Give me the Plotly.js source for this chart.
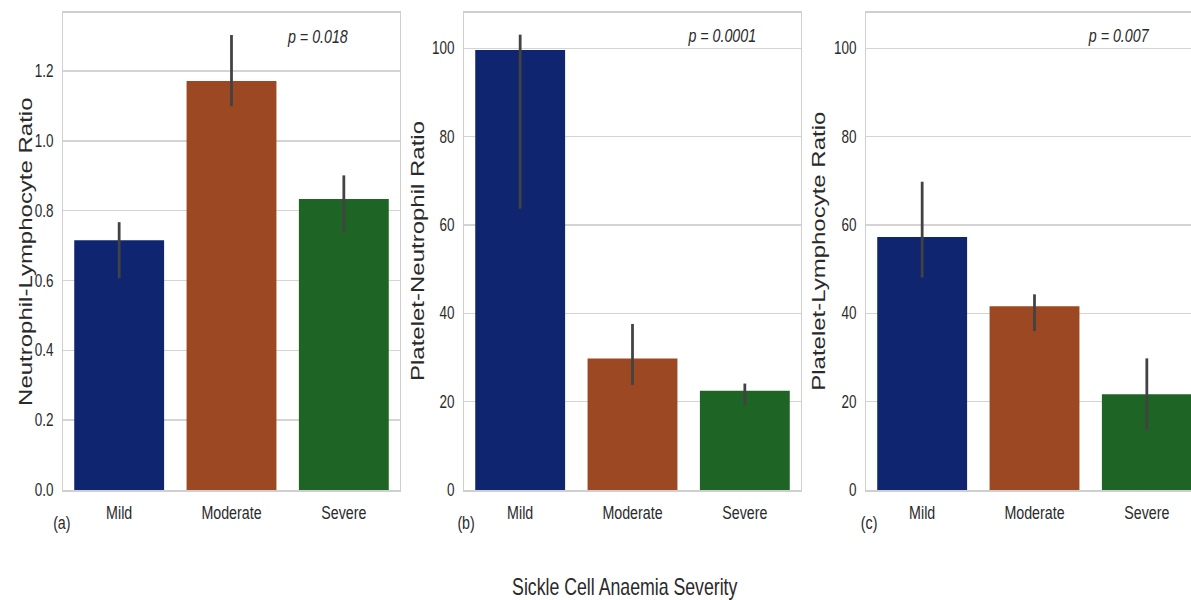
<!DOCTYPE html>
<html>
<head>
<meta charset="utf-8">
<script src="https://cdn.plot.ly/plotly-3.0.1.min.js"></script>
<style>
  html, body { margin: 0; padding: 0; overflow: hidden; background: #ffffff; width: 1191px; height: 600px; }
  #wrap { width: 1191px; height: 600px; overflow: hidden; position: relative; }
  #chart { position: absolute; left: 0; top: 0; transform-origin: 0 0; }
</style>
</head>
<body>
<div id="wrap"><div id="chart"></div></div>
<script>
// ---------------- data ----------------
const categories = ['Mild', 'Moderate', 'Severe'];

const nlrMean = [0.715, 1.171, 0.833];
const nlrLow  = [0.606, 1.099, 0.736];
const nlrHigh = [0.767, 1.303, 0.901];

const pnrMean = [99.6, 29.8, 22.5];
const pnrLow  = [63.7, 23.8, 19.3];
const pnrHigh = [103.1, 37.6, 24.1];

const plrMean = [57.3, 41.6, 21.7];
const plrLow  = [48.1, 36.0, 13.5];
const plrHigh = [69.8, 44.3, 29.8];

const yTitles = ['Neutrophil-Lymphocyte Ratio', 'Platelet-Neutrophil Ratio', 'Platelet-Lymphocyte Ratio'];
const pValues = ['p = 0.018', 'p = 0.0001', 'p = 0.007'];
const panelLabels = ['(a)', '(b)', '(c)'];
const xTitle = 'Sickle Cell Anaemia Severity';
const barColors = ['#10256f', '#9c4822', '#1e6525'];

// ---------------- layout helpers ----------------
const F = 0.77;                 // horizontal squeeze of the original figure
const W = Math.round(1210 / F); // pre-transform width
const H = 600;
const panelLeft = [63, 464, 866];   // final pixel positions
const panelWidth = 337;
const plotTop = 13, plotBottom = 490;
const fx = px => px / F / W;
const FONT = 'Liberation Sans, Arial, Helvetica, sans-serif';
const TXT = '#2a2a2a';

const series = [
  {mean: nlrMean, low: nlrLow, high: nlrHigh, range: [0, 1.366], dtick: 0.2, fmt: '.1f'},
  {mean: pnrMean, low: pnrLow, high: pnrHigh, range: [0, 108.0], dtick: 20, fmt: 'd'},
  {mean: plrMean, low: plrLow, high: plrHigh, range: [0, 108.0], dtick: 20, fmt: 'd'}
];

const data = [];
const layout = {
  width: W, height: H,
  margin: {l: 0, r: 0, t: plotTop, b: H - plotBottom, pad: 0},
  paper_bgcolor: '#ffffff', plot_bgcolor: '#ffffff',
  showlegend: false,
  bargap: 0.2,
  font: {family: FONT, color: TXT},
  annotations: []
};

series.forEach((s, i) => {
  const sfx = i === 0 ? '' : String(i + 1);
  data.push({
    type: 'bar',
    x: categories,
    y: s.mean,
    xaxis: 'x' + sfx,
    yaxis: 'y' + sfx,
    marker: {color: barColors, line: {width: 0}},
    error_y: {
      type: 'data', symmetric: false,
      array: s.high.map((h, k) => h - s.mean[k]),
      arrayminus: s.low.map((l, k) => s.mean[k] - l),
      color: '#424242', thickness: 3.6, width: 0
    },
    hoverinfo: 'skip'
  });
  const L = panelLeft[i];
  layout['xaxis' + sfx] = {
    domain: [fx(L), fx(L + panelWidth)],
    anchor: 'y' + sfx,
    range: [-0.5, 2.5],
    showline: true, mirror: true, linecolor: '#cfcfcf', linewidth: 1.8,
    showgrid: false, zeroline: false,
    ticks: 'outside', ticklen: 5, tickcolor: 'rgba(0,0,0,0)',
    tickfont: {family: FONT, size: 18.5, color: TXT},
    fixedrange: true
  };
  layout['yaxis' + sfx] = {
    domain: [0, 1],
    anchor: 'x' + sfx,
    range: s.range, dtick: s.dtick, tick0: 0, tickformat: s.fmt,
    showline: true, mirror: true, linecolor: '#cfcfcf', linewidth: 1.8,
    showgrid: true, gridcolor: '#d4d4d4', gridwidth: 1.6,
    zeroline: false,
    ticks: 'outside', ticklen: 7, tickcolor: 'rgba(0,0,0,0)',
    tickfont: {family: FONT, size: 17.5, color: TXT},
    fixedrange: true
  };
  const xr = 'x' + sfx + ' domain', yr = 'y' + sfx + ' domain';
  const fy = py => (plotBottom - py) / (plotBottom - plotTop);
  const pCenters = [317.5, 721.5, 1118.5];
  const pY = [37, 35, 35];
  const titleX = [25, 417, 818];
  const labelX = [62, 466, 869];
  layout.annotations.push({
    xref: xr, yref: yr, x: (pCenters[i] - L) / panelWidth, y: fy(pY[i]),
    xanchor: 'center', yanchor: 'middle', showarrow: false,
    text: '<i>' + pValues[i] + '</i>', font: {family: FONT, size: 18.5, color: TXT}
  });
  layout.annotations.push({
    xref: xr, yref: yr, x: (titleX[i] - L) / panelWidth, y: 0.5,
    xanchor: 'center', yanchor: 'middle', showarrow: false, textangle: -90,
    text: yTitles[i], font: {family: FONT, size: 24, color: TXT}
  });
  layout.annotations.push({
    xref: xr, yref: yr, x: (labelX[i] - L) / panelWidth, y: fy(522),
    xanchor: 'center', yanchor: 'middle', showarrow: false,
    text: panelLabels[i], font: {family: FONT, size: 18.5, color: TXT}
  });
});

layout.annotations.push({
  xref: 'paper', yref: 'paper', x: fx(625), y: (plotBottom - 587) / (plotBottom - plotTop),
  xanchor: 'center', yanchor: 'middle', showarrow: false,
  text: xTitle, font: {family: FONT, size: 23, color: TXT}
});

const el = document.getElementById('chart');
el.style.transform = 'scaleX(' + F + ')';
Plotly.newPlot(el, data, layout, {displayModeBar: false, staticPlot: true});
</script>
</body>
</html>
